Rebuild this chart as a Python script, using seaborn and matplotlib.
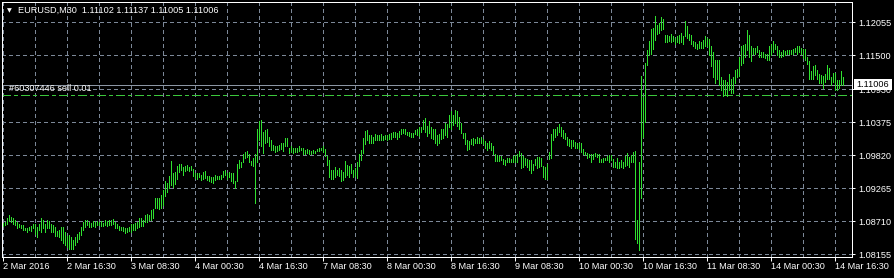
import numpy as np
import pandas as pd
import matplotlib
matplotlib.use("Agg")
import matplotlib.pyplot as plt
import matplotlib.transforms as mtransforms
from matplotlib.patches import Rectangle
from matplotlib.ticker import FixedLocator, MultipleLocator
import seaborn as sns

# ---------------- data ----------------
symbol = "EURUSD,M30"
last_ohlc = ["1.11102", "1.11137", "1.11005", "1.11006"]

highs = [
    1.0869, 1.0870, 1.0876, 1.0881, 1.0879, 1.0877, 1.0874, 1.0870, 1.0866, 1.0865,
    1.0865, 1.0860, 1.0860, 1.0862, 1.0863, 1.0867, 1.0866, 1.0862, 1.0867, 1.0876,
    1.0874, 1.0867, 1.0874, 1.0871, 1.0866, 1.0864, 1.0862, 1.0855, 1.0857, 1.0861,
    1.0862, 1.0853, 1.0847, 1.0848, 1.0845, 1.0839, 1.0845, 1.0849, 1.0853, 1.0862,
    1.0870, 1.0873, 1.0873, 1.0870, 1.0869, 1.0871, 1.0870, 1.0871, 1.0870, 1.0871,
    1.0869, 1.0873, 1.0871, 1.0874, 1.0873, 1.0875, 1.0870, 1.0867, 1.0863, 1.0862,
    1.0862, 1.0859, 1.0859, 1.0862, 1.0867, 1.0866, 1.0869, 1.0870, 1.0876, 1.0876,
    1.0873, 1.0881, 1.0883, 1.0881, 1.0890, 1.0892, 1.0910, 1.0910, 1.0910, 1.0915,
    1.0924, 1.0939, 1.0935, 1.0947, 1.0972, 1.0952, 1.0954, 1.0964, 1.0968, 1.0968,
    1.0962, 1.0964, 1.0966, 1.0963, 1.0964, 1.0959, 1.0952, 1.0952, 1.0952, 1.0949,
    1.0954, 1.0955, 1.0947, 1.0947, 1.0946, 1.0946, 1.0949, 1.0948, 1.0947, 1.0949,
    1.0956, 1.0957, 1.0953, 1.0954, 1.0953, 1.0952, 1.0938, 1.0967, 1.0974, 1.0971,
    1.0985, 1.0988, 1.0989, 1.0985, 1.0973, 1.0977, 1.0984, 1.1026, 1.1039, 1.1042,
    1.1022, 1.1025, 1.1027, 1.1013, 1.1008, 1.0999, 1.0998, 1.0998, 1.0999, 1.1002,
    1.1003, 1.1011, 1.1011, 1.0995, 1.0998, 1.0995, 1.0994, 1.0995, 1.0997, 1.0995,
    1.0994, 1.0991, 1.0992, 1.0991, 1.0990, 1.0991, 1.0990, 1.0993, 1.0994, 1.0995,
    1.0997, 1.0992, 1.0980, 1.0974, 1.0957, 1.0957, 1.0962, 1.0958, 1.0960, 1.0958,
    1.0954, 1.0972, 1.0966, 1.0964, 1.0968, 1.0958, 1.0960, 1.0971, 1.0985, 1.0991,
    1.1011, 1.1023, 1.1025, 1.1016, 1.1016, 1.1013, 1.1018, 1.1016, 1.1016, 1.1018,
    1.1014, 1.1016, 1.1016, 1.1017, 1.1019, 1.1022, 1.1022, 1.1019, 1.1023, 1.1026,
    1.1027, 1.1026, 1.1022, 1.1022, 1.1019, 1.1020, 1.1025, 1.1026, 1.1030, 1.1030,
    1.1042, 1.1045, 1.1031, 1.1039, 1.1030, 1.1026, 1.1026, 1.1016, 1.1017, 1.1026,
    1.1026, 1.1036, 1.1035, 1.1050, 1.1057, 1.1050, 1.1058, 1.1057, 1.1046, 1.1036,
    1.1020, 1.1019, 1.1007, 1.1006, 1.1009, 1.1011, 1.1009, 1.1012, 1.1011, 1.1012,
    1.1009, 1.1006, 1.1002, 1.1006, 1.1002, 1.0997, 1.0985, 1.0982, 1.0981, 1.0980,
    1.0976, 1.0974, 1.0977, 1.0977, 1.0976, 1.0981, 1.0982, 1.0985, 1.0990, 1.0986,
    1.0980, 1.0978, 1.0975, 1.0974, 1.0974, 1.0968, 1.0975, 1.0979, 1.0979, 1.0977,
    1.0964, 1.0962, 1.0967, 1.0988, 1.1018, 1.1027, 1.1027, 1.1029, 1.1035, 1.1030,
    1.1025, 1.1019, 1.1012, 1.1009, 1.1008, 1.1008, 1.1005, 1.1003, 1.1002, 1.1002,
    1.0992, 1.0988, 1.0986, 1.0985, 1.0984, 1.0985, 1.0986, 1.0985, 1.0985, 1.0976,
    1.0977, 1.0978, 1.0981, 1.0982, 1.0982, 1.0975, 1.0971, 1.0977, 1.0971, 1.0974,
    1.0971, 1.0981, 1.0986, 1.0979, 1.0982, 1.0988, 1.0989, 1.0873, 1.0970, 1.1115,
    1.1080, 1.1137, 1.1159, 1.1175, 1.1194, 1.1196, 1.1217, 1.1201, 1.1204, 1.1215,
    1.1212, 1.1184, 1.1185, 1.1182, 1.1186, 1.1183, 1.1179, 1.1182, 1.1184, 1.1187,
    1.1182, 1.1208, 1.1199, 1.1186, 1.1184, 1.1175, 1.1173, 1.1170, 1.1174, 1.1173,
    1.1176, 1.1182, 1.1180, 1.1177, 1.1165, 1.1156, 1.1143, 1.1143, 1.1142, 1.1114,
    1.1109, 1.1109, 1.1106, 1.1119, 1.1111, 1.1114, 1.1125, 1.1127, 1.1148, 1.1166,
    1.1168, 1.1170, 1.1193, 1.1184, 1.1165, 1.1163, 1.1162, 1.1165, 1.1159, 1.1156,
    1.1155, 1.1153, 1.1153, 1.1165, 1.1170, 1.1175, 1.1170, 1.1165, 1.1159, 1.1156,
    1.1159, 1.1158, 1.1159, 1.1159, 1.1159, 1.1160, 1.1162, 1.1165, 1.1166, 1.1163,
    1.1161, 1.1160, 1.1148, 1.1140, 1.1123, 1.1132, 1.1134, 1.1125, 1.1119, 1.1117,
    1.1115, 1.1119, 1.1134, 1.1128, 1.1114, 1.1121, 1.1120, 1.1109, 1.1109, 1.1123, 1.1114,
]

lows = [
    1.0863, 1.0865, 1.0867, 1.0872, 1.0870, 1.0867, 1.0865, 1.0860, 1.0861, 1.0859,
    1.0856, 1.0856, 1.0853, 1.0856, 1.0855, 1.0859, 1.0849, 1.0845, 1.0856, 1.0853,
    1.0859, 1.0853, 1.0859, 1.0859, 1.0853, 1.0853, 1.0847, 1.0847, 1.0845, 1.0839,
    1.0834, 1.0831, 1.0828, 1.0825, 1.0824, 1.0825, 1.0831, 1.0837, 1.0841, 1.0848,
    1.0856, 1.0862, 1.0865, 1.0862, 1.0861, 1.0863, 1.0862, 1.0865, 1.0865, 1.0863,
    1.0863, 1.0865, 1.0863, 1.0865, 1.0865, 1.0867, 1.0860, 1.0859, 1.0856, 1.0856,
    1.0855, 1.0852, 1.0853, 1.0855, 1.0853, 1.0856, 1.0857, 1.0859, 1.0862, 1.0863,
    1.0863, 1.0870, 1.0870, 1.0873, 1.0874, 1.0876, 1.0893, 1.0893, 1.0892, 1.0893,
    1.0898, 1.0914, 1.0921, 1.0927, 1.0932, 1.0929, 1.0933, 1.0943, 1.0954, 1.0957,
    1.0949, 1.0956, 1.0958, 1.0956, 1.0957, 1.0948, 1.0944, 1.0943, 1.0945, 1.0940,
    1.0943, 1.0944, 1.0940, 1.0939, 1.0937, 1.0935, 1.0940, 1.0942, 1.0942, 1.0943,
    1.0945, 1.0949, 1.0943, 1.0946, 1.0938, 1.0935, 1.0927, 1.0938, 1.0960, 1.0962,
    1.0970, 1.0977, 1.0979, 1.0970, 1.0966, 1.0964, 1.0902, 1.0971, 1.1008, 1.0997,
    1.0986, 1.1002, 1.1005, 1.0997, 1.0991, 1.0991, 1.0988, 1.0989, 1.0991, 1.0992,
    1.0990, 1.0998, 1.0998, 1.0986, 1.0988, 1.0986, 1.0988, 1.0988, 1.0989, 1.0991,
    1.0984, 1.0984, 1.0986, 1.0985, 1.0985, 1.0986, 1.0986, 1.0989, 1.0990, 1.0991,
    1.0988, 1.0980, 1.0966, 1.0946, 1.0943, 1.0942, 1.0946, 1.0949, 1.0948, 1.0939,
    1.0940, 1.0946, 1.0949, 1.0946, 1.0952, 1.0946, 1.0947, 1.0944, 1.0964, 1.0974,
    1.0986, 1.1001, 1.1008, 1.1002, 1.1003, 1.1002, 1.1007, 1.1008, 1.1007, 1.1008,
    1.1008, 1.1009, 1.1008, 1.1009, 1.1009, 1.1013, 1.1012, 1.1009, 1.1012, 1.1018,
    1.1019, 1.1017, 1.1016, 1.1014, 1.1013, 1.1013, 1.1018, 1.1016, 1.1014, 1.1022,
    1.1026, 1.1022, 1.1014, 1.1019, 1.1011, 1.1009, 1.1002, 1.0999, 1.1003, 1.1009,
    1.1011, 1.1016, 1.1013, 1.1030, 1.1026, 1.1033, 1.1037, 1.1031, 1.1026, 1.1020,
    1.1011, 1.1001, 1.0991, 1.0992, 1.1001, 1.0999, 1.1002, 1.1003, 1.1003, 1.1003,
    1.1001, 1.0994, 1.0991, 1.0994, 1.0991, 1.0984, 1.0973, 1.0973, 1.0973, 1.0974,
    1.0968, 1.0966, 1.0970, 1.0970, 1.0970, 1.0971, 1.0971, 1.0971, 1.0981, 1.0960,
    1.0962, 1.0966, 1.0963, 1.0957, 1.0953, 1.0957, 1.0966, 1.0960, 1.0963, 1.0964,
    1.0946, 1.0943, 1.0943, 1.0975, 1.0977, 1.1008, 1.1013, 1.1016, 1.1022, 1.1014,
    1.1011, 1.1009, 1.0999, 1.0997, 1.0995, 1.0997, 1.0994, 1.0994, 1.0992, 1.0988,
    1.0985, 1.0982, 1.0977, 1.0979, 1.0970, 1.0975, 1.0980, 1.0979, 1.0970, 1.0970,
    1.0971, 1.0974, 1.0974, 1.0971, 1.0974, 1.0962, 1.0962, 1.0960, 1.0960, 1.0962,
    1.0960, 1.0964, 1.0966, 1.0962, 1.0970, 1.0971, 1.0842, 1.0835, 1.0822, 1.0910,
    1.1013, 1.1038, 1.1134, 1.1151, 1.1152, 1.1160, 1.1176, 1.1186, 1.1187, 1.1193,
    1.1194, 1.1173, 1.1173, 1.1175, 1.1173, 1.1175, 1.1170, 1.1173, 1.1171, 1.1173,
    1.1170, 1.1182, 1.1179, 1.1176, 1.1170, 1.1165, 1.1162, 1.1161, 1.1163, 1.1162,
    1.1162, 1.1166, 1.1165, 1.1151, 1.1132, 1.1113, 1.1103, 1.1111, 1.1100, 1.1091,
    1.1082, 1.1083, 1.1081, 1.1092, 1.1086, 1.1087, 1.1104, 1.1114, 1.1115, 1.1134,
    1.1138, 1.1148, 1.1159, 1.1148, 1.1141, 1.1153, 1.1152, 1.1156, 1.1148, 1.1147,
    1.1147, 1.1145, 1.1143, 1.1142, 1.1151, 1.1156, 1.1160, 1.1151, 1.1148, 1.1147,
    1.1149, 1.1151, 1.1152, 1.1152, 1.1152, 1.1153, 1.1155, 1.1153, 1.1156, 1.1153,
    1.1145, 1.1143, 1.1136, 1.1110, 1.1110, 1.1111, 1.1117, 1.1110, 1.1103, 1.1103,
    1.1096, 1.1106, 1.1110, 1.1111, 1.1100, 1.1106, 1.1091, 1.1092, 1.1095, 1.1100, 1.1100,
]

time_labels = ["2 Mar 2016", "2 Mar 16:30", "3 Mar 08:30", "4 Mar 00:30",
               "4 Mar 16:30", "7 Mar 08:30", "8 Mar 00:30", "8 Mar 16:30",
               "9 Mar 08:30", "10 Mar 00:30", "10 Mar 16:30", "11 Mar 08:30",
               "14 Mar 00:30", "14 Mar 16:30"]
bars_per_label = 32

price_ticks = [1.08155, 1.08710, 1.09265, 1.09820, 1.10375, 1.10930, 1.11500, 1.12055]
price_tick_labels = ["1.08155", "1.08710", "1.09265", "1.09820", "1.10375",
                     "1.10930", "1.11500", "1.12055"]

bid_price = 1.11006
order_label = "#60307446 sell 0.01"
order_price = 1.1083

# ---------------- style ----------------
sns.set_style("dark", {"axes.facecolor": "black", "figure.facecolor": "black",
                       "axes.edgecolor": "white", "grid.color": "#7c8898"})
plt.rcParams["font.family"] = ["Liberation Sans", "DejaVu Sans"]
plt.rcParams["lines.scale_dashes"] = False

BAR_GREEN = "#2fe02f"
GRID = "#7c8898"
PX = 0.72  # one pixel in points at dpi 100
FS = 6.6

W, H = 895, 278
fig = plt.figure(figsize=(W / 100, H / 100), dpi=100, facecolor="black")
ax = fig.add_axes([2.3 / W, (H - 256.7) / H, (852 - 2.3) / W, (256.7 - 2.3) / H])
ax.set_facecolor("black")

# ---------------- bars via seaborn ----------------
n = len(highs)
df = pd.DataFrame({
    "bar": np.repeat(np.arange(n), 2),
    "price": np.column_stack([lows, highs]).ravel(),
})
sns.lineplot(data=df, x="bar", y="price", units="bar", estimator=None,
             color=BAR_GREEN, lw=PX, antialiased=False, legend=False, ax=ax,
             zorder=3)

ax.set_xlim(-0.5, 424.35)
ax.set_ylim(1.08115, 1.12393)
ax.set_xlabel("")
ax.set_ylabel("")

# ---------------- axes / ticks ----------------
ax.xaxis.set_major_locator(FixedLocator(np.arange(len(time_labels)) * bars_per_label))
ax.xaxis.set_minor_locator(MultipleLocator(bars_per_label // 2))
ax.set_xticklabels(time_labels, ha="left")
ax.tick_params(axis="x", which="major", direction="out", length=4 * PX, width=PX,
               color="white", pad=0.6, labelsize=FS, labelcolor="white", bottom=True)
ax.tick_params(axis="x", which="minor", length=0, bottom=True)

ax.yaxis.tick_right()
ax.yaxis.set_major_locator(FixedLocator(price_ticks))
ax.set_yticklabels(price_tick_labels)
ax.tick_params(axis="y", which="major", direction="out", length=3 * PX, width=PX,
               color="white", pad=3 * PX, labelsize=FS, labelcolor="white", right=True, left=False)

for s in ax.spines.values():
    s.set_color("white")
    s.set_linewidth(PX)
    s.set_zorder(6)

dash = (0, (3 * PX, 3 * PX))
ax.grid(False)
ax.grid(True, axis="x", which="both", color=GRID, lw=PX, linestyle=dash, antialiased=False, zorder=1)
ax.grid(True, axis="y", which="major", color=GRID, lw=PX, linestyle=dash, antialiased=False, zorder=1)
ax.set_axisbelow(True)

# ---------------- price line / order line ----------------
ax.axhline(bid_price, color="#8c96a4", lw=PX, antialiased=False, zorder=2)
ax.axhline(order_price, color="#3cc83c", lw=PX, antialiased=False, zorder=2,
           linestyle=(0, (9 * PX, 4 * PX, 3 * PX, 4 * PX)))

ax.annotate(order_label, xy=(0, order_price), xycoords=("axes fraction", "data"),
            xytext=(7 * PX, 2 * PX), textcoords="offset points",
            ha="left", va="bottom", color="white", fontsize=FS, zorder=7)

# current price label box on the price scale
blend = mtransforms.blended_transform_factory(ax.transAxes, ax.transData)
box_h = 11 * (ax.get_ylim()[1] - ax.get_ylim()[0]) / 254.4
box = Rectangle((1 + 2 / 849.7, bid_price - box_h / 2), 38 / 849.7, box_h,
                transform=blend, facecolor="white", edgecolor="none",
                clip_on=False, zorder=20)
ax.add_patch(box)
ax.text(1 + 4 / 849.7, bid_price, f"{bid_price:.5f}", transform=blend,
        ha="left", va="center", color="black", fontsize=FS, clip_on=False, zorder=21)

# ---------------- header ----------------
fig.text(6.5 / W, (H - 10.5) / H, "\u25BC", family="DejaVu Sans", fontsize=4.5,
         color="white", ha="left", va="center")
fig.text(18 / W, (H - 10.5) / H, symbol + "  " + " ".join(last_ohlc),
         color="white", fontsize=FS, ha="left", va="center")

fig.savefig("out.png", dpi=100, facecolor="black")
